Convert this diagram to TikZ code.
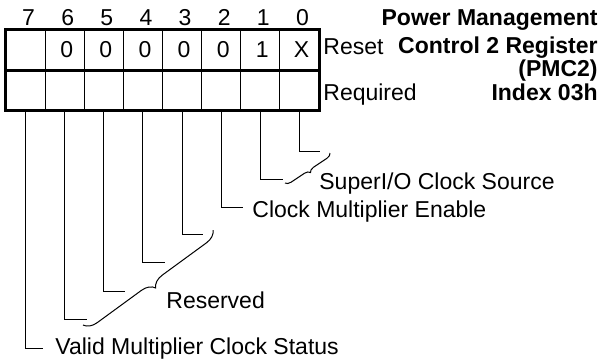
\documentclass[tikz,border=0pt]{standalone}
\usepackage{fontspec}
\setmainfont{Liberation Sans}
\usetikzlibrary{positioning,decorations.pathreplacing}

\begin{document}
\begin{tikzpicture}[x=0.5pt,y=-0.5pt,every node/.style={font=\fontsize{11.5}{13}\selectfont},
      cell/.style={draw,line width=0.6pt,minimum width=19.56pt,minimum height=20pt,inner sep=0pt},
      title/.style={anchor=base east,inner sep=0pt,font=\fontsize{11.5}{13}\selectfont\bfseries},
      lbl/.style={anchor=base west,inner sep=0pt},
      lead/.style={line width=0.5pt},
      brc/.style={decorate,decoration={brace,amplitude=#1},line width=0.5pt}]
    \useasboundingbox (0,0) rectangle (604,360);
    % register cells, bit numbers
    \foreach \b/\v in {7/,6/0,5/0,4/0,3/0,2/0,1/1,0/X} {
      \node[cell] (r\b) at ({6+(7.5-\b)*39.125},50) {\hspace{2pt}\v};
      \node[cell] (q\b) at ({6+(7.5-\b)*39.125},90) {};
      \node[anchor=base,inner sep=0pt] (n\b) at ({9+(7.5-\b)*39.125},25) {\b};
    }
    \draw[line width=1.5pt] (r7.north west) rectangle (q0.south east);
    \draw[line width=1.5pt] (r7.south west) -- (r0.south east);
    \node[lbl] (reset) at (323,54) {Reset};
    \node[lbl] (req) at (323,100) {Required};
    % title
    \node[title] (t1) at (598,25) {Power Management};
    \node[title] (t2) at (598,53) {Control 2 Register};
    \node[title] (t3) at (598,76) {(PMC2)};
    \node[title] (t4) at (598,100) {Index 03h};
    % leader ends
    \coordinate (e0) at (320,151);
    \coordinate (e1) at (283,179);
    \coordinate (e2) at (243,207);
    \coordinate (e3) at (203,234);
    \coordinate (e4) at (165,262);
    \coordinate (e5) at (125,291);
    \coordinate (e6) at (87,319);
    \coordinate (e7) at (43,348);
    \foreach \b in {0,...,7}
      \draw[lead] (q\b.south) |- (e\b);
    % braces
    \coordinate (sa) at (330,153);
    \coordinate (sb) at (285,183);
    \draw[brc=2.7pt] (sa) -- (sb);
    \coordinate (ra) at (213,230);
    \coordinate (rb) at (83,325);
    \draw[brc=6.5pt] (ra) -- (rb);
    % labels
    \node[lbl] (sio) at (319,189) {SuperI/O Clock Source};
    \node[lbl] (cme) at (252,217) {Clock Multiplier Enable};
    \node[lbl] (rsv) at (166,308) {Reserved};
    \node[lbl] (vmc) at (55,354) {Valid Multiplier Clock Status};
  \end{tikzpicture}
\end{document}
